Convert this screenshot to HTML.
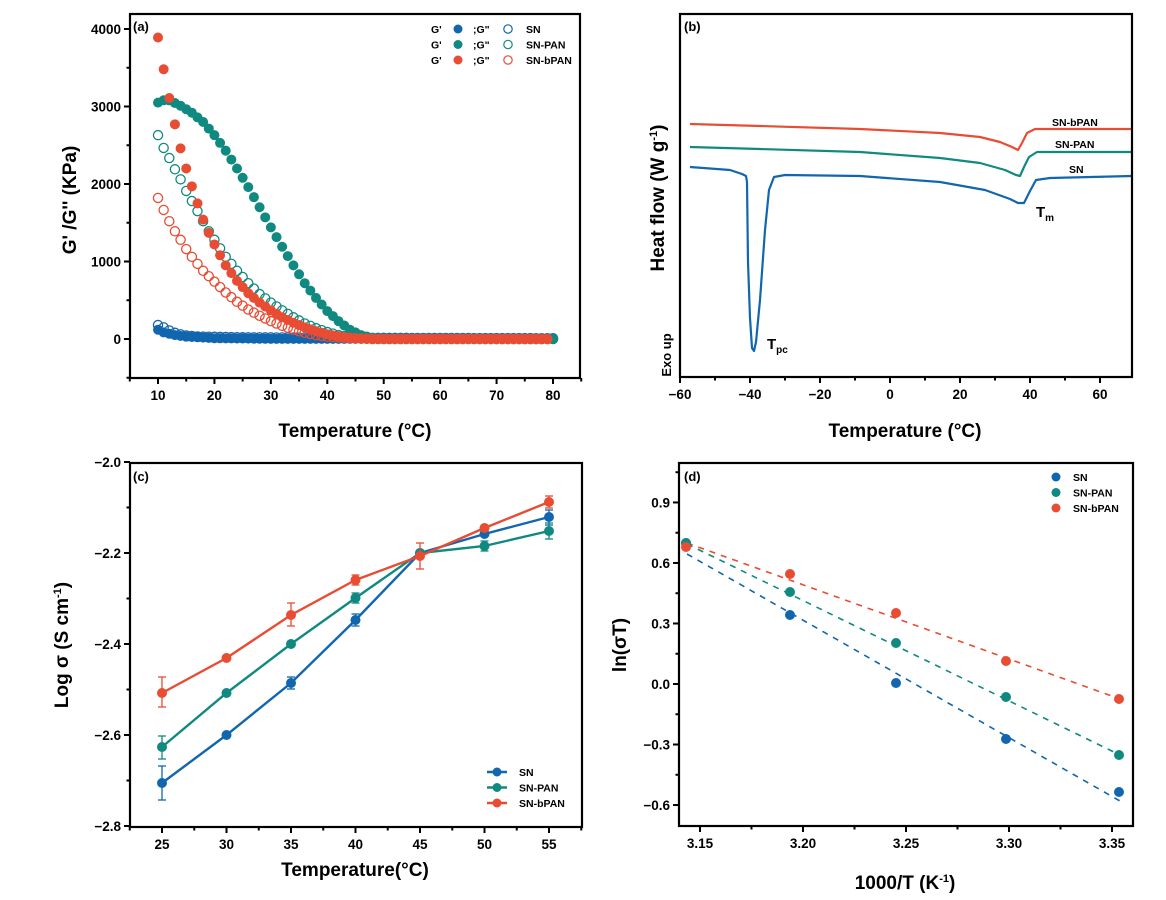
<!DOCTYPE html>
<html><head><meta charset="utf-8"><style>
html,body{margin:0;padding:0;background:#fff;}
svg{display:block;font-family:"Liberation Sans",Arial,sans-serif;font-weight:bold;}
</style></head><body>
<svg id="s" width="1166" height="900" xmlns="http://www.w3.org/2000/svg"></svg>
<script>
const B='#1166ae',T='#108a80',R='#e84c33';
let o='';
function line(x1,y1,x2,y2,c,w,extra){o+=`<line x1="${x1}" y1="${y1}" x2="${x2}" y2="${y2}" stroke="${c}" stroke-width="${w}" ${extra||''}/>`;}
function txt(x,y,s,sz,anchor,extra){o+=`<text x="${x}" y="${y}" font-size="${sz}" text-anchor="${anchor||'middle'}" ${extra||''}>${s}</text>`;}
function frame(l,t,r,b){o+=`<rect x="${l}" y="${t}" width="${r-l}" height="${b-t}" fill="none" stroke="#000" stroke-width="2.2"/>`;}
function xticks(vals,fx,b,major,lab){vals.forEach(v=>{const x=fx(v);line(x,b,x,b+(major?6:3.5),'#000',2);if(major&&lab)txt(x,b+22,lab(v),13.5);});}
function yticks(vals,fy,l,major,lab){vals.forEach(v=>{const y=fy(v);line(l,y,l-(major?6:3.5),y,'#000',2);if(major&&lab)txt(l-9,y+5,lab(v),13.5,'end');});}
function rng(a,b,s){const r=[];for(let v=a;v<=b+1e-9;v+=s)r.push(+v.toFixed(4));return r;}
function neg(s){return String(s).replace('-','−');}
function interp(tab,t){for(let i=0;i<tab.length-1;i++){if(t>=tab[i][0]&&t<=tab[i+1][0]){const f=(t-tab[i][0])/(tab[i+1][0]-tab[i][0]);return tab[i][1]+f*(tab[i+1][1]-tab[i][1]);}}return tab[tab.length-1][1];}

/* ---------- Panel a ---------- */
{const L=130,Tp=14,Rr=580,Bt=378;
const fx=t=>158+(t-10)*5.643, fy=v=>339-v*0.0775;
const snG1=[[10,120],[11,85],[13,50],[15,30],[20,10],[30,2],[80,0]];
const snG2=[[10,180],[11,150],[12,110],[13,80],[14,60],[15,45],[17,32],[25,22],[45,15],[80,10]];
const panG1=[[10,3050],[11,3080],[12,3080],[14,3010],[16,2920],[18,2800],[20,2630],[22,2430],[24,2200],[26,1960],[28,1700],[30,1440],[32,1190],[34,950],[36,720],[38,530],[40,360],[42,230],[44,120],[46,50],[48,15],[50,0],[80,0]];
const panG2=[[10,2630],[11,2465],[12,2335],[13,2190],[14,2060],[15,1910],[16,1780],[17,1650],[18,1520],[19,1390],[20,1280],[22,1060],[24,880],[26,720],[28,580],[30,470],[32,370],[34,280],[36,200],[38,140],[40,90],[42,50],[44,25],[46,10],[48,2],[80,0]];
const bG1=[[10,3890],[11,3480],[12,3110],[13,2770],[14,2460],[15,2200],[16,1970],[17,1750],[18,1540],[19,1370],[20,1220],[21,1080],[22,950],[23,850],[24,750],[26,590],[28,470],[30,370],[32,280],[34,210],[36,150],[38,100],[40,60],[42,35],[44,18],[46,6],[48,0],[80,0]];
const bG2=[[10,1820],[11,1665],[12,1520],[13,1390],[14,1280],[15,1160],[16,1060],[17,970],[18,880],[20,740],[22,600],[24,480],[26,380],[28,300],[30,230],[32,170],[34,120],[36,80],[38,50],[40,30],[44,10],[48,0],[80,0]];
function ser(tab,c,fill,tmax){for(let t=10;t<=tmax;t++){const x=fx(t),y=fy(interp(tab,t));o+= fill?`<circle cx="${x}" cy="${y}" r="5" fill="${c}"/>`:`<circle cx="${x}" cy="${y}" r="4.6" fill="none" stroke="${c}" stroke-width="1.3"/>`;}}
ser(snG1,B,1,80);ser(snG2,B,0,80);ser(panG1,T,1,80);ser(panG2,T,0,80);ser(bG1,R,1,79);ser(bG2,R,0,79);
frame(L,Tp,Rr,Bt);
xticks(rng(10,80,10),fx,Bt,1,v=>v);xticks(rng(5,85,10),fx,Bt,0);
yticks(rng(0,4000,1000),fy,L,1,v=>v);yticks(rng(-500,4500,1000).filter(v=>fy(v)>Tp&&fy(v)<Bt),fy,L,0);
txt(133,31,'(a)',13,'start');
txt(355,437,'Temperature (°C)',19);
txt(0,0,"G' /G'' (KPa)",19,'middle','transform="translate(76,200) rotate(-90)"');
const lg=[[B,'SN'],[T,'SN-PAN'],[R,'SN-bPAN']];
lg.forEach((g,i)=>{const y=29+i*15.5;txt(431,y+4,"G'",10.5,'start');o+=`<circle cx="458" cy="${y}" r="4.5" fill="${g[0]}"/>`;txt(473,y+4,';G"',10.5,'start');o+=`<circle cx="508" cy="${y}" r="4.2" fill="none" stroke="${g[0]}" stroke-width="1.2"/>`;txt(526,y+4,g[1],10.5,'start');});
}

/* ---------- Panel b ---------- */
{const L=680,Tp=14,Rr=1132,Bt=377;
const fx=t=>890+t*3.5;
function pl(pts,c){o+=`<polyline points="${pts.map(p=>p.join(',')).join(' ')}" fill="none" stroke="${c}" stroke-width="2.2" stroke-linejoin="round"/>`;}
pl([[690,124],[760,126],[860,129],[940,133],[980,137],[1000,142],[1012,147],[1018,150],[1022,143],[1027,133],[1035,129],[1132,129]],R);
pl([[690,147],[760,149],[860,152],[940,158],[980,163],[1005,170],[1016,175],[1020,176],[1024,167],[1029,157],[1037,152],[1132,152]],T);
pl([[690,167],[730,170],[742,174],[746,176],[747,182],[748,262],[750,318],[752,348],[754,351],[756,342],[760,300],[765,230],[769,190],[774,177],[785,175],[860,176],[940,182],[985,190],[1010,199],[1018,203],[1024,203],[1030,191],[1036,180],[1050,178],[1132,176]],B);
frame(L,Tp,Rr,Bt);
xticks(rng(-60,60,20),fx,Bt,1,v=>neg(v));xticks(rng(-50,60,20),fx,Bt,0);
txt(684,31,'(b)',13,'start');
txt(1052,126,'SN-bPAN',10.5,'start');txt(1055,148,'SN-PAN',10.5,'start');txt(1069,173,'SN',10.5,'start');
txt(1036,217,'T<tspan font-size="10" dy="4">m</tspan>',15,'start');
txt(767,349,'T<tspan font-size="10" dy="4">pc</tspan>',15,'start');
txt(905,437,'Temperature (°C)',19);
txt(0,0,'Heat flow (W g<tspan font-size="11" dy="-7">-1</tspan><tspan dy="7">)</tspan>',19,'middle','transform="translate(664,198) rotate(-90)"');
txt(0,0,'Exo up',13,'middle','transform="translate(671,355) rotate(-90)"');
}

/* ---------- Panel c ---------- */
{const L=130,Tp=463,Rr=582,Bt=827;
const fx=t=>162+(t-25)*12.9, fy=v=>553-(v+2.2)*455;
const Ts=[25,30,35,40,45,50,55];
const data=[[B,[783,735,683,620,553,534,517],[[766,800],[0,0],[677,689],[614,626],[0,0],[0,0],[510,525]]],
[T,[747,693,644,598,553,546,531],[[736,759],[0,0],[0,0],[593,603],[0,0],[541,551],[523,539]]],
[R,[693,658,615,580,556,528,502],[[677,707],[0,0],[603,626],[575,585],[543,569],[0,0],[496,508]]]];
data.forEach(d=>{const pts=Ts.map((t,i)=>[fx(t),d[1][i]]);
o+=`<polyline points="${pts.map(p=>p.join(',')).join(' ')}" fill="none" stroke="${d[0]}" stroke-width="2.4"/>`;
pts.forEach((p,i)=>{const e=d[2][i];if(e[0]){line(p[0],e[0],p[0],e[1],d[0],1.3);line(p[0]-4,e[0],p[0]+4,e[0],d[0],1.3);line(p[0]-4,e[1],p[0]+4,e[1],d[0],1.3);}o+=`<circle cx="${p[0]}" cy="${p[1]}" r="5" fill="${d[0]}"/>`;});});
frame(L,Tp,Rr,Bt);
xticks(rng(25,55,5),fx,Bt,1,v=>v);xticks(rng(22.5,57.5,5),fx,Bt,0);
yticks(rng(-2.8,-2.0,0.2),fy,L,1,v=>neg(v.toFixed(1)));yticks(rng(-2.7,-2.1,0.2),fy,L,0);
txt(133,481,'(c)',13,'start');
[[B,'SN'],[T,'SN-PAN'],[R,'SN-bPAN']].forEach((g,i)=>{const y=772+i*15.5;line(487,y,507,y,g[0],2.4);o+=`<circle cx="497" cy="${y}" r="4.5" fill="${g[0]}"/>`;txt(519,y+4,g[1],10.5,'start');});
txt(355,876,'Temperature(°C)',19);
txt(0,0,'Log σ (S cm<tspan font-size="11" dy="-7">-1</tspan><tspan dy="7">)</tspan>',19,'middle','transform="translate(68,645) rotate(-90)"');
}

/* ---------- Panel d ---------- */
{const L=679,Tp=463,Rr=1133,Bt=826;
const fx=x=>700+(x-3.15)*2060, fy=v=>684-v*201.7;
const xs=[686,790,896,1006,1119];
const D=[[B,[543,615,683,739,792],[687,554,1120,801]],[T,[543,592,643,697,755],[687,544,1120,755]],[R,[547,574,613,661,699],[687,543,1120,699]]];
D.forEach(d=>{const l=d[2];o+=`<line x1="${l[0]}" y1="${l[1]}" x2="${l[2]}" y2="${l[3]}" stroke="${d[0]}" stroke-width="1.6" stroke-dasharray="6,6"/>`;});
D.forEach(d=>{xs.forEach((x,i)=>{o+=`<circle cx="${x}" cy="${d[1][i]}" r="5" fill="${d[0]}"/>`;});});
frame(L,Tp,Rr,Bt);
xticks(rng(3.15,3.35,0.05),fx,Bt,1,v=>v.toFixed(2));xticks(rng(3.175,3.375,0.05).filter(v=>fx(v)<Rr),fx,Bt,0);
yticks(rng(-0.6,0.9,0.3),fy,L,1,v=>neg(v.toFixed(1)));yticks(rng(-0.75,1.05,0.3).filter(v=>fy(v)>Tp&&fy(v)<Bt),fy,L,0);
txt(684,481,'(d)',13,'start');
[[B,'SN'],[T,'SN-PAN'],[R,'SN-bPAN']].forEach((g,i)=>{const y=477+i*15.5;o+=`<circle cx="1056" cy="${y}" r="4.5" fill="${g[0]}"/>`;txt(1073,y+4,g[1],10.5,'start');});
txt(905,889,'1000/T (K<tspan font-size="11" dy="-7">-1</tspan><tspan dy="7">)</tspan>',19);
txt(0,0,'ln(σT)',19,'middle','transform="translate(626,645) rotate(-90)"');
}
document.getElementById('s').innerHTML=o;
</script>
</body></html>
